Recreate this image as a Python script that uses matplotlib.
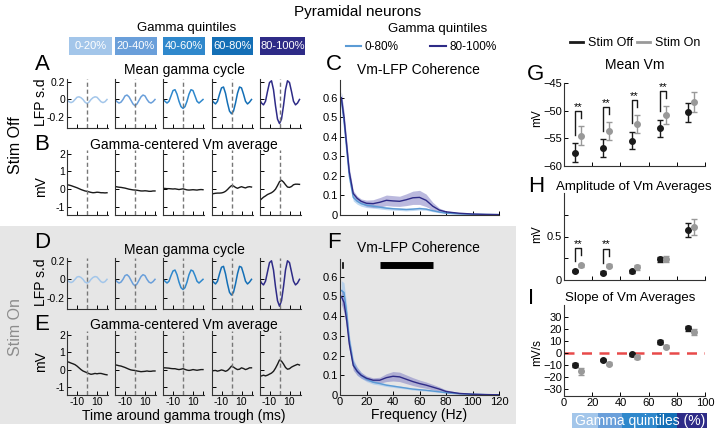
import numpy as np
import matplotlib.pyplot as plt
from matplotlib.patches import Rectangle
from matplotlib.lines import Line2D

plt.rcParams['font.family'] = ['Liberation Sans', 'DejaVu Sans']

W, H = 716, 432

# ---------------- data ----------------
quint_labels = ['0-20%', '20-40%', '40-60%', '60-80%', '80-100%']
quint_colors = ['#a3c6ea', '#6a9fda', '#2f88cc', '#146fb6', '#2e2b87']

t_ms = [-20, -18, -16, -14, -12, -10, -8, -6, -4, -2, 0,
        2, 4, 6, 8, 10, 12, 14, 16, 18, 20]

# mean gamma cycle (LFP s.d), stim off / on, one list per quintile
lfp_off = [
    [0.0, -0.025, -0.035, -0.025, 0.0, 0.025, 0.03, 0.02, 0.0, -0.03, -0.045,
     -0.03, 0.0, 0.02, 0.03, 0.025, 0.0, -0.025, -0.035, -0.025, 0.0],
    [0.0, -0.025, -0.04, -0.03, 0.0, 0.04, 0.05, 0.03, -0.01, -0.05, -0.07,
     -0.05, -0.01, 0.03, 0.05, 0.04, 0.0, -0.03, -0.04, -0.025, 0.0],
    [0.0, -0.02, -0.04, -0.02, 0.04, 0.1, 0.11, 0.06, -0.02, -0.08, -0.1,
     -0.08, -0.02, 0.06, 0.11, 0.1, 0.04, -0.02, -0.04, -0.02, 0.0],
    [0.0, -0.03, -0.05, -0.02, 0.06, 0.13, 0.14, 0.07, -0.04, -0.13, -0.16,
     -0.13, -0.04, 0.07, 0.14, 0.13, 0.06, -0.02, -0.05, -0.03, 0.0],
    [0.0, -0.04, -0.06, -0.02, 0.09, 0.19, 0.21, 0.11, -0.07, -0.22, -0.27,
     -0.22, -0.07, 0.11, 0.21, 0.19, 0.09, -0.02, -0.06, -0.04, 0.0],
]
lfp_on = [
    [0.0, -0.025, -0.035, -0.025, 0.0, 0.025, 0.03, 0.02, 0.0, -0.03, -0.04,
     -0.03, 0.0, 0.02, 0.03, 0.025, 0.0, -0.025, -0.035, -0.025, 0.0],
    [0.0, -0.025, -0.04, -0.03, 0.0, 0.04, 0.05, 0.03, -0.01, -0.05, -0.07,
     -0.05, -0.01, 0.03, 0.05, 0.04, 0.0, -0.03, -0.04, -0.025, 0.0],
    [0.0, -0.02, -0.04, -0.02, 0.04, 0.09, 0.1, 0.05, -0.03, -0.09, -0.11,
     -0.09, -0.03, 0.05, 0.1, 0.09, 0.04, -0.02, -0.04, -0.02, 0.0],
    [0.0, -0.03, -0.05, -0.02, 0.06, 0.13, 0.14, 0.06, -0.05, -0.14, -0.17,
     -0.14, -0.05, 0.06, 0.14, 0.13, 0.06, -0.02, -0.05, -0.03, 0.0],
    [0.0, -0.04, -0.06, -0.02, 0.08, 0.18, 0.2, 0.1, -0.08, -0.23, -0.29,
     -0.23, -0.08, 0.1, 0.2, 0.18, 0.08, -0.02, -0.06, -0.04, 0.0],
]

# gamma-centered Vm average (mV)
vm_off = [
    [0.25, 0.23, 0.2, 0.16, 0.12, 0.08, 0.03, -0.02, -0.06, -0.1, -0.12,
     -0.15, -0.18, -0.2, -0.19, -0.17, -0.18, -0.2, -0.2, -0.21, -0.2],
    [0.15, 0.13, 0.11, 0.1, 0.08, 0.06, 0.03, 0.0, -0.02, -0.04, -0.05,
     -0.06, -0.08, -0.1, -0.1, -0.09, -0.1, -0.12, -0.12, -0.1, -0.1],
    [0.05, 0.04, 0.03, 0.03, 0.02, 0.01, 0.02, 0.0, -0.02, 0.0, 0.02,
     -0.01, -0.04, -0.05, -0.04, -0.03, -0.04, -0.05, -0.03, -0.02, -0.03],
    [-0.28, -0.25, -0.23, -0.22, -0.22, -0.21, -0.18, -0.12, -0.02, 0.1, 0.2,
     0.18, 0.1, 0.05, 0.1, 0.14, 0.1, 0.07, 0.12, 0.14, 0.12],
    [-0.65, -0.55, -0.45, -0.38, -0.3, -0.25, -0.2, -0.12, 0.0, 0.2, 0.42,
     0.5, 0.4, 0.25, 0.12, 0.1, 0.15, 0.25, 0.28, 0.28, 0.27],
]
vm_on = [
    [0.45, 0.42, 0.37, 0.33, 0.28, 0.2, 0.1, 0.0, -0.08, -0.13, -0.18,
     -0.23, -0.27, -0.25, -0.22, -0.24, -0.22, -0.22, -0.25, -0.28, -0.3],
    [0.27, 0.25, 0.22, 0.2, 0.16, 0.12, 0.07, 0.02, -0.02, -0.04, -0.05,
     -0.08, -0.1, -0.12, -0.11, -0.1, -0.08, -0.1, -0.1, -0.08, -0.08],
    [0.1, 0.1, 0.09, 0.08, 0.06, 0.05, 0.05, 0.02, 0.0, 0.02, 0.05,
     0.01, -0.03, -0.05, -0.03, 0.0, -0.02, -0.04, -0.02, 0.0, 0.0],
    [-0.1, -0.06, -0.05, -0.09, -0.06, -0.02, -0.05, -0.1, -0.05, 0.06, 0.2,
     0.14, 0.06, 0.0, 0.02, 0.1, 0.06, 0.0, 0.04, 0.1, 0.1],
    [-0.4, -0.36, -0.32, -0.36, -0.32, -0.26, -0.2, -0.1, 0.08, 0.3, 0.55,
     0.48, 0.32, 0.12, 0.02, 0.05, 0.14, 0.2, 0.25, 0.3, 0.26],
]

# Vm-LFP coherence
freq = [1, 3, 5, 7, 10, 13, 16, 20, 25, 30, 35, 40, 45, 50, 55, 60,
        65, 70, 75, 80, 90, 100, 110, 120]
coh_off_hi = [0.6, 0.5, 0.36, 0.22, 0.11, 0.085, 0.07, 0.06, 0.058, 0.065, 0.075, 0.072,
              0.07, 0.078, 0.088, 0.09, 0.075, 0.045, 0.025, 0.016, 0.009, 0.005, 0.003, 0.002]
coh_off_hi_err = [0.03, 0.03, 0.03, 0.025, 0.015, 0.012, 0.012, 0.016, 0.02, 0.024, 0.027, 0.027,
                  0.026, 0.03, 0.034, 0.036, 0.032, 0.02, 0.01, 0.006, 0.003, 0.002, 0.002, 0.001]
coh_off_lo = [0.59, 0.48, 0.34, 0.2, 0.09, 0.07, 0.058, 0.05, 0.045, 0.04, 0.035, 0.032,
              0.03, 0.028, 0.03, 0.033, 0.03, 0.022, 0.015, 0.01, 0.006, 0.004, 0.003, 0.002]
coh_off_lo_err = [0.04, 0.04, 0.035, 0.03, 0.018, 0.015, 0.013, 0.012, 0.01, 0.009, 0.008, 0.007,
                  0.007, 0.007, 0.007, 0.007, 0.006, 0.005, 0.004, 0.003, 0.002, 0.002, 0.001, 0.001]
coh_on_hi = [0.5, 0.47, 0.38, 0.26, 0.15, 0.12, 0.1, 0.085, 0.075, 0.075, 0.088, 0.095,
             0.092, 0.08, 0.068, 0.058, 0.05, 0.04, 0.03, 0.018, 0.008, 0.004, 0.002, 0.001]
coh_on_hi_err = [0.04, 0.05, 0.04, 0.03, 0.025, 0.02, 0.015, 0.012, 0.012, 0.015, 0.02, 0.024,
                 0.024, 0.022, 0.02, 0.018, 0.016, 0.014, 0.011, 0.008, 0.004, 0.002, 0.002, 0.001]
coh_on_lo = [0.53, 0.52, 0.42, 0.28, 0.16, 0.12, 0.1, 0.08, 0.065, 0.058, 0.05, 0.045,
             0.04, 0.035, 0.03, 0.027, 0.024, 0.02, 0.016, 0.012, 0.007, 0.004, 0.002, 0.001]
coh_on_lo_err = [0.05, 0.05, 0.04, 0.03, 0.025, 0.02, 0.015, 0.012, 0.01, 0.008, 0.007, 0.006,
                 0.006, 0.005, 0.005, 0.005, 0.004, 0.004, 0.003, 0.003, 0.002, 0.002, 0.001, 0.001]
sig_band_hz = [30, 70]

# summary stats per quintile
quint_centers = [10, 30, 50, 70, 90]
vm_mean_off = [-57.6, -56.8, -55.4, -53.2, -50.3]
vm_err_off = [1.7, 1.65, 1.6, 1.6, 1.7]
vm_mean_on = [-54.5, -53.7, -52.4, -50.8, -48.5]
vm_err_on = [1.65, 1.6, 1.6, 1.65, 1.8]
vm_sig = [0, 1, 2, 3]

amp_off = [0.105, 0.086, 0.10, 0.24, 0.58]
amp_err_off = [0.015, 0.012, 0.015, 0.03, 0.08]
amp_on = [0.17, 0.164, 0.145, 0.245, 0.61]
amp_err_on = [0.015, 0.015, 0.03, 0.035, 0.09]
amp_sig = [0, 1]

slope_off = [-9.9, -5.8, -1.2, 9.0, 20.4]
slope_err_off = [1.5, 1.0, 1.0, 1.5, 2.0]
slope_on = [-15.5, -9.0, -3.5, 5.3, 17.5]
slope_err_on = [3.0, 1.2, 1.5, 1.2, 2.8]

# ---------------- figure ----------------
fig = plt.figure(figsize=(W / 100, H / 100), dpi=100)


def px_axes(x0, y0, x1, y1, labelsize=8):
    ax = fig.add_axes([x0 / W, 1 - y1 / H, (x1 - x0) / W, (y1 - y0) / H])
    ax.set_facecolor('none')
    for s in ['top', 'right']:
        ax.spines[s].set_visible(False)
    for s in ['left', 'bottom']:
        ax.spines[s].set_color('#333333')
        ax.spines[s].set_linewidth(0.8)
    ax.tick_params(direction='in', length=3, width=0.7, labelsize=labelsize, pad=1.5)
    return ax


def ftext(x, y, s, **kw):
    kw.setdefault('ha', 'center')
    kw.setdefault('va', 'center')
    return fig.text(x / W, 1 - y / H, s, **kw)


def frect(x0, y0, x1, y1, color, z=-10):
    fig.add_artist(Rectangle((x0 / W, 1 - y1 / H), (x1 - x0) / W, (y1 - y0) / H,
                             transform=fig.transFigure, facecolor=color,
                             edgecolor='none', zorder=z))


# gray background for Stim On rows
frect(0, 226, 516, 424, '#e6e6e6')

ftext(358, 12, 'Pyramidal neurons', fontsize=11)

# quintile colour key
ftext(187, 28, 'Gamma quintiles', fontsize=9.5)
box_x = [(69, 112), (115, 157), (163, 205), (212, 253), (260, 305)]
for (x0, x1), c, lab in zip(box_x, quint_colors, quint_labels):
    frect(x0, 37, x1, 55, c, z=1)
    ftext((x0 + x1) / 2, 46, lab, color='white', fontsize=8, zorder=2)

col_x = [67, 115, 163, 211.5, 259.5]


def draw_rows(lfp, vm, y_lfp, y_vm, show_x):
    for i in range(5):
        ax = px_axes(col_x[i], y_lfp[0], col_x[i] + 41, y_lfp[1], labelsize=7.5)
        ax.plot(t_ms, lfp[i], color=quint_colors[i], lw=1.1)
        ax.axvline(0, color='#777777', ls='--', lw=1, dashes=(3, 2))
        ax.set_xlim(-20, 21)
        ax.set_ylim(-0.32, 0.23)
        ax.set_xticks([-10, 0, 10, 20])
        ax.set_xticklabels([])
        ax.set_yticks([-0.2, 0, 0.2])
        ax.set_yticklabels(['-0.2', '0', '0.2'] if i == 0 else [])

        ax = px_axes(col_x[i], y_vm[0], col_x[i] + 41, y_vm[1], labelsize=7.5)
        ax.plot(t_ms, vm[i], color='#1a1a1a', lw=1)
        ax.axvline(0, color='#777777', ls='--', lw=1, dashes=(3, 2))
        ax.set_xlim(-20, 21)
        ax.set_ylim(-1.45, 2.2)
        ax.set_xticks([-10, 0, 10, 20])
        ax.set_xticklabels(['-10', '', '10', ''] if show_x else [])
        ax.set_yticks([-1, 0, 1, 2])
        ax.set_yticklabels(['-1', '0', '1', '2'] if i == 0 else [])


draw_rows(lfp_off, vm_off, (79, 128), (150, 215), False)
draw_rows(lfp_on, vm_on, (258, 309), (331, 395), True)

ftext(184, 70, 'Mean gamma cycle', fontsize=10)
ftext(184, 145, 'Gamma-centered Vm average', fontsize=10)
ftext(184, 250, 'Mean gamma cycle', fontsize=10)
ftext(184, 325, 'Gamma-centered Vm average', fontsize=10)
ftext(184, 416, 'Time around gamma trough (ms)', fontsize=10)
ftext(41, 102, 'LFP s.d', fontsize=10, rotation=90)
ftext(41, 187, 'mV', fontsize=10, rotation=90)
ftext(41, 282, 'LFP s.d', fontsize=10, rotation=90)
ftext(41, 362, 'mV', fontsize=10, rotation=90)
ftext(16, 145, 'Stim Off', fontsize=11.5, rotation=90)
ftext(16, 327, 'Stim On', fontsize=11.5, rotation=90, color='#8c8c8c')

for lab, x, y in [('A', 42, 65), ('B', 42, 145), ('D', 42, 242), ('E', 42, 324),
                  ('C', 334, 65), ('F', 334, 242), ('G', 536, 75), ('H', 536, 186),
                  ('I', 531, 299)]:
    ftext(x, y, lab, fontsize=16)


# coherence panels
def draw_coh(ax, hi, hi_err, lo, lo_err, show_x):
    f = np.array(freq)
    lo, lo_err, hi, hi_err = map(np.array, (lo, lo_err, hi, hi_err))
    ax.fill_between(f, lo - lo_err, lo + lo_err, color='#a9cbee', alpha=0.75, lw=0)
    ax.plot(f, lo, color='#5b9bd5', lw=1)
    ax.fill_between(f, hi - hi_err, hi + hi_err, color='#8381c4', alpha=0.55, lw=0)
    ax.plot(f, hi, color='#2e2b87', lw=1)
    ax.set_xlim(0, 120)
    ax.set_ylim(0, 0.69)
    ax.set_xticks(range(0, 121, 20))
    if not show_x:
        ax.set_xticklabels([])
    ax.set_yticks([0, 0.1, 0.2, 0.3, 0.4, 0.5, 0.6])
    ax.set_yticklabels(['0', '0.1', '0.2', '0.3', '0.4', '0.5', '0.6'])


axC = px_axes(340, 80, 499, 215)
draw_coh(axC, coh_off_hi, coh_off_hi_err, coh_off_lo, coh_off_lo_err, False)
axF = px_axes(340, 259, 499, 395)
draw_coh(axF, coh_on_hi, coh_on_hi_err, coh_on_lo, coh_on_lo_err, True)
axF.plot(sig_band_hz, [0.66, 0.66], color='black', lw=5, solid_capstyle='butt')
axF.plot([2, 2], [0.645, 0.67], color='black', lw=1.2)
axF.set_xlabel('Frequency (Hz)', fontsize=10, labelpad=1)

ftext(418, 70, 'Vm-LFP Coherence', fontsize=10)
ftext(418, 248, 'Vm-LFP Coherence', fontsize=10)
ftext(438, 29, 'Gamma quintiles', fontsize=9.5)
coh_handles = [Line2D([], [], color='#5b9bd5', lw=1.5), Line2D([], [], color='#2e2b87', lw=1.5)]
fig.legend(coh_handles, ['0-80%', '80-100%'], loc='center', bbox_to_anchor=(421 / W, 1 - 47 / H),
           ncol=2, frameon=False, fontsize=8.5, handlelength=1.3, handletextpad=0.3,
           columnspacing=2.7, borderpad=0)


# summary panels
def draw_stats(ax, off, off_err, on, on_err, sig, ylim):
    xs = np.array(quint_centers)
    ax.errorbar(xs - 2, off, yerr=off_err, fmt='o', color='#1a1a1a', ms=4,
                capsize=2.5, elinewidth=1, capthick=1)
    ax.errorbar(xs + 2, on, yerr=on_err, fmt='o', color='#999999', ms=4,
                capsize=2.5, elinewidth=1, capthick=1)
    span = ylim[1] - ylim[0]
    for i in sig:
        top_off = off[i] + off_err[i]
        top_on = on[i] + on_err[i]
        yb = top_on + 0.18 * span
        ax.plot([xs[i] - 2, xs[i] - 2, xs[i] + 2, xs[i] + 2],
                [top_off + 0.1 * span, yb, yb, top_on + 0.1 * span], color='#1a1a1a', lw=1)
        ax.text(xs[i], yb + 0.05 * span, '**', ha='center', va='center', fontsize=8)
    ax.set_xlim(0, 100)
    ax.set_ylim(*ylim)
    ax.set_xticks(range(0, 101, 20))


axG = px_axes(564, 83, 705, 166)
draw_stats(axG, vm_mean_off, vm_err_off, vm_mean_on, vm_err_on, vm_sig, (-60, -45))
axG.set_yticks([-60, -55, -50, -45])
axG.set_xticklabels([])

axH = px_axes(564, 193, 705, 280)
draw_stats(axH, amp_off, amp_err_off, amp_on, amp_err_on, amp_sig, (0, 1.0))
axH.set_yticks([0, 0.25, 0.5, 0.75])
axH.set_yticklabels(['0', '', '0.5', ''])
axH.set_xticklabels([])

axI = px_axes(564, 305, 705, 396)
axI.axhline(0, color='#e84a4a', lw=1.8, dashes=(4, 3), zorder=0)
draw_stats(axI, slope_off, slope_err_off, slope_on, slope_err_on, [], (-36, 40))
axI.set_yticks([-30, -20, -10, 0, 10, 20, 30])

ftext(537, 118, 'mV', fontsize=8.5, rotation=90)
ftext(537, 234, 'mV', fontsize=8.5, rotation=90)
ftext(537, 353, 'mV/s', fontsize=8.5, rotation=90)
ftext(635, 65, 'Mean Vm', fontsize=10)
ftext(634, 187, 'Amplitude of Vm Averages', fontsize=9.5)
ftext(630, 298, 'Slope of Vm Averages', fontsize=9.5)

stim_handles = [Line2D([], [], color='#1a1a1a', lw=2), Line2D([], [], color='#999999', lw=2)]
fig.legend(stim_handles, ['Stim Off', 'Stim On'], loc='center', bbox_to_anchor=(635 / W, 1 - 43 / H),
           ncol=2, frameon=False, fontsize=9, handlelength=1.05, handletextpad=0.4,
           columnspacing=0.3, borderpad=0)

# gamma quintile bar under the x axis
bar_edges = [572, 598, 622, 657, 677, 707]
for i in range(5):
    frect(bar_edges[i], 413, bar_edges[i + 1], 428, quint_colors[i], z=1)
ftext(640, 421, 'Gamma quintiles (%)', color='white', fontsize=10, zorder=2)

fig.savefig('out.png', dpi=100)
